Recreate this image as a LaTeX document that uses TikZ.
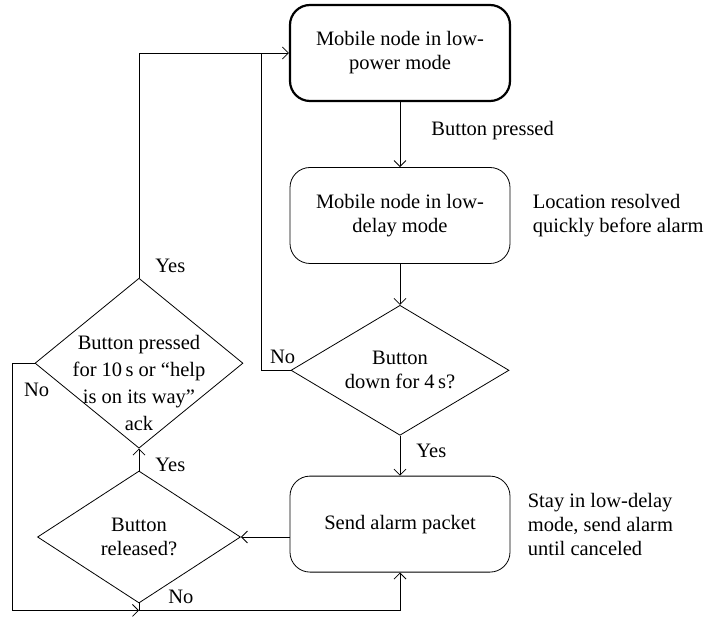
\documentclass[tikz,border=0pt]{standalone}
\usepackage{fontspec}
\setmainfont{Liberation Serif}
\usetikzlibrary{positioning, arrows.meta, calc, shapes.geometric}

\begin{document}
\begin{tikzpicture}
	[x=1pt, y=-1pt,
	 >={Straight Barb[length=6pt, width=12pt]},
	 line width=0.8pt,
	 font=\fontsize{20.5}{24}\selectfont,
	 box/.style={draw, rounded corners=20pt, minimum width=220pt, minimum height=96pt, align=center},
	 dia/.style={draw, diamond, inner sep=0pt},
	 txt/.style={align=left, inner sep=3pt},
	 dtext/.style={align=center}]

	\useasboundingbox (0,0) rectangle (707,617);

	\node[box, line width=2.2pt] (b1) at (400,53) {Mobile node in low-\\power mode};
	\node[box, below=65pt of b1] (b2) {Mobile node in low-\\delay mode};
	\node[dia, below=41pt of b2, minimum width=218pt, minimum height=130pt,
	      label={[dtext]center:Button\\down for 4\,s?}] (d1) {};
	\node[box, below=40pt of d1] (b3) {Send alarm packet};
	\node[dia, minimum width=203pt, minimum height=132pt,
	      label={[dtext]center:Button\\released?}] (d2) at (139,537) {};
	\node[dia, above=22pt of d2, minimum width=208pt, minimum height=170pt,
	      label={[dtext, yshift=-20pt, font=\fontsize{20.5}{27}\selectfont]center:Button pressed\\for 10\,s or “help\\is on its way”\\ack}] (d3) {};

	% side notes
	\node[txt, right=19pt of b2] (n1) {Location resolved\\quickly before alarm};
	\node[txt, right=14pt of b3] (n2) {Stay in low-delay\\mode, send alarm\\until canceled};

	\coordinate (c1) at ($(d1.west)+(-29,0)$);
	\coordinate (c2) at ($(d3.west)+(-22,0)$);
	\coordinate (j) at ($(d2.south)+(0,7)$);

	\draw[->] (b1) -- node[txt, right=28pt, yshift=4pt] {Button pressed} (b2);
	\draw[->] (b2) -- (d1);
	\draw[->] (d1) -- node[txt, right=13pt, yshift=5pt] {Yes} (b3);
	\draw (d1.west) node[txt, anchor=south, xshift=-8pt, yshift=3pt] {No} -- (c1) -- (c1 |- b1.west);
	\draw[->] (d3.north) node[txt, anchor=south west, xshift=13pt, yshift=2pt] {Yes} |- (b1.west);
	\draw[->] (b3.west |- d2.east) -- (d2.east);
	\draw[->] (d2) -- node[txt, right=13pt, yshift=-5pt] {Yes} (d3);
	\draw[->] (d3.west) node[txt, anchor=north, xshift=2pt, yshift=-16pt] {No} -- (c2) |- (j);
	\draw[->] (d2.south) node[txt, anchor=south west, xshift=26pt, yshift=-4pt] {No} -- (j) -| (b3.south);
\end{tikzpicture}
\end{document}
